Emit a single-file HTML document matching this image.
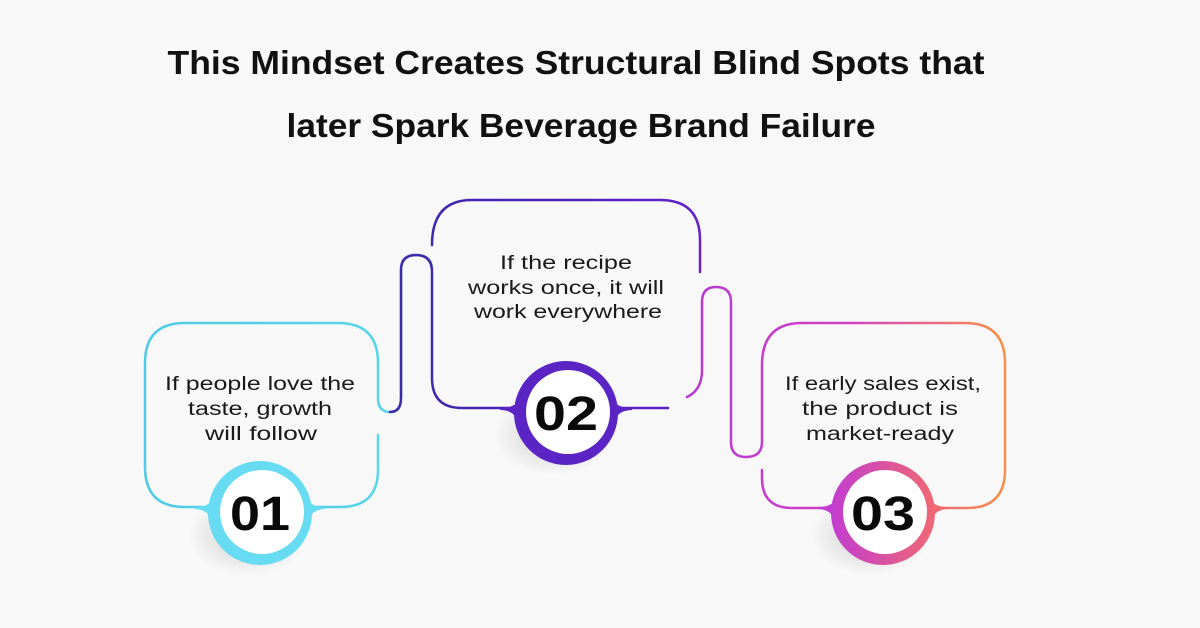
<!DOCTYPE html>
<html><head><meta charset="utf-8"><style>
html,body{margin:0;padding:0;background:#f8f8f8;}
svg{display:block;}
text{font-family:"Liberation Sans",sans-serif;}
</style></head><body>
<svg width="1200" height="628" viewBox="0 0 1200 628" xmlns="http://www.w3.org/2000/svg">
<defs>
<linearGradient id="g1" x1="0" y1="0" x2="1" y2="0"><stop offset="0" stop-color="#4fcbe6"/><stop offset="1" stop-color="#5ad6ee"/></linearGradient>
<linearGradient id="gc1" x1="0" y1="0" x2="1" y2="0" gradientUnits="userSpaceOnUse"><stop offset="0" stop-color="#45c7e9"/><stop offset="1" stop-color="#66dbf2"/></linearGradient>
<linearGradient id="g2" x1="378" y1="0" x2="730" y2="0" gradientUnits="userSpaceOnUse"><stop offset="0" stop-color="#3d2aa8"/><stop offset="0.5" stop-color="#4a22b8"/><stop offset="1" stop-color="#6a22c9"/></linearGradient>
<linearGradient id="g3" x1="686" y1="0" x2="1005" y2="0" gradientUnits="userSpaceOnUse"><stop offset="0" stop-color="#b53bd4"/><stop offset="0.5" stop-color="#d43fc4"/><stop offset="1" stop-color="#f7904a"/></linearGradient>
<linearGradient id="gc3" x1="830" y1="0" x2="940" y2="0" gradientUnits="userSpaceOnUse"><stop offset="0" stop-color="#c23cd2"/><stop offset="1" stop-color="#f26a6e"/></linearGradient>
<radialGradient id="sh" cx="0.5" cy="0.5" r="0.5"><stop offset="0" stop-color="#000" stop-opacity="0.18"/><stop offset="1" stop-color="#000" stop-opacity="0"/></radialGradient>
</defs>

<text x="576" y="74" font-size="33" font-weight="bold" text-anchor="middle" textLength="817" lengthAdjust="spacingAndGlyphs" fill="#111">This Mindset Creates Structural Blind Spots that</text>
<text x="581" y="137" font-size="33" font-weight="bold" text-anchor="middle" textLength="589" lengthAdjust="spacingAndGlyphs" fill="#111">later Spark Beverage Brand Failure</text>

<g fill="none" stroke-width="2.5" stroke-linecap="round">
<!-- box1 -->
<path stroke="url(#g1)" d="M215,507 H185 Q145,507 145,467 V363 Q145,323 185,323 H338 Q378,323 378,363 V398 Q378,412 390,412 Q401,412 401,398 V270 Q401,255 416,255 Q432,255 432,270"/>
<path stroke="url(#g1)" d="M378,435 V470 Q378,507 340,507 H305"/>
<!-- box2 -->
<path stroke="url(#g2)" d="M390,412 Q401,412 401,398 V270 Q401,255 416,255 Q432,255 432,272 V378 Q432,408 462,408 H520"/>
<path stroke="url(#g2)" d="M432,245 Q432,200 472,200 H660 Q700,200 700,240 V272"/>
<path stroke="url(#g2)" d="M612,408 H668"/>
<!-- connector 2-3 -->
<path stroke="url(#g3)" d="M687,397 Q702,390 702,370 V302 Q702,287 716,287 Q731,287 731,302 V442 Q731,457 746,457 Q762,457 762,442 V365 Q762,323 802,323 H965 Q1005,323 1005,363 V470 Q1005,508 967,508 H930"/>
<path stroke="url(#g3)" d="M762,470 V478 Q762,508 792,508 H836"/>
</g>

<!-- circles -->
<g>
<ellipse cx="248" cy="535" rx="60" ry="40" fill="url(#sh)"/>
<path d="M195,507 Q212,507 214,495 A52,52 0 0 1 306,495 Q308,507 325,507 L325,509 Q308,509 306,530 A52,52 0 0 1 214,530 Q212,509 195,509 Z" fill="url(#gc1)"/>
<circle cx="260" cy="513" r="52" fill="url(#gc1)"/>
<circle cx="262" cy="512" r="42" fill="#fff"/>
<text x="260" y="530" font-size="48" font-weight="bold" text-anchor="middle" fill="#0a0a0a" textLength="60" lengthAdjust="spacingAndGlyphs">01</text>
</g>
<g>
<ellipse cx="554" cy="435" rx="60" ry="40" fill="url(#sh)"/>
<path d="M500,408 Q518,408 520,396 A52,52 0 0 1 612,396 Q614,408 632,408 L632,410 Q614,410 612,430 A52,52 0 0 1 520,430 Q518,410 500,410 Z" fill="#5a25c4"/>
<circle cx="566" cy="413" r="52" fill="#5a25c4"/>
<circle cx="568" cy="412" r="42" fill="#fff"/>
<text x="566" y="430" font-size="48" font-weight="bold" text-anchor="middle" fill="#0a0a0a" textLength="64" lengthAdjust="spacingAndGlyphs">02</text>
</g>
<g>
<ellipse cx="871" cy="535" rx="60" ry="40" fill="url(#sh)"/>
<path d="M818,507 Q835,507 837,495 A52,52 0 0 1 929,495 Q931,507 948,507 L948,509 Q931,509 929,530 A52,52 0 0 1 837,530 Q835,509 818,509 Z" fill="url(#gc3)"/>
<circle cx="883" cy="513" r="52" fill="url(#gc3)"/>
<circle cx="885" cy="512" r="42" fill="#fff"/>
<text x="883" y="530" font-size="48" font-weight="bold" text-anchor="middle" fill="#0a0a0a" textLength="64" lengthAdjust="spacingAndGlyphs">03</text>
</g>

<g font-size="19" fill="#1a1a1a" text-anchor="middle">
<text x="260" y="390" textLength="190" lengthAdjust="spacingAndGlyphs">If people love the</text>
<text x="260" y="415" textLength="144" lengthAdjust="spacingAndGlyphs">taste, growth</text>
<text x="261" y="440" textLength="112" lengthAdjust="spacingAndGlyphs">will follow</text>
<text x="566" y="269" textLength="132" lengthAdjust="spacingAndGlyphs">If the recipe</text>
<text x="566" y="294" textLength="196" lengthAdjust="spacingAndGlyphs">works once, it will</text>
<text x="568" y="318" textLength="188" lengthAdjust="spacingAndGlyphs">work everywhere</text>
<text x="883" y="390" textLength="196" lengthAdjust="spacingAndGlyphs">If early sales exist,</text>
<text x="880" y="415" textLength="156" lengthAdjust="spacingAndGlyphs">the product is</text>
<text x="880" y="440" textLength="148" lengthAdjust="spacingAndGlyphs">market-ready</text>
</g>
</svg>
</body></html>
